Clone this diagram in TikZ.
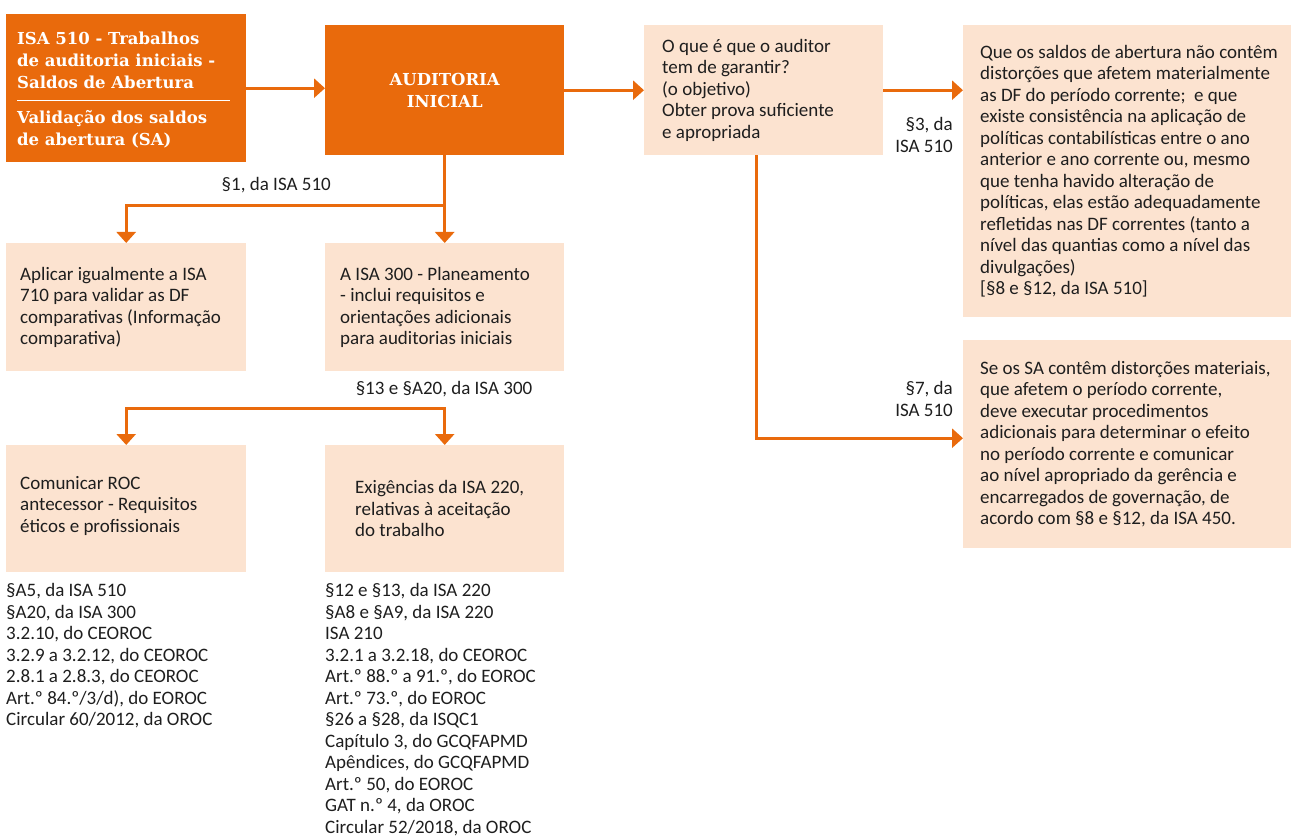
\documentclass[tikz,border=0pt]{standalone}
\usepackage{fontspec}
\setmainfont{Carlito}
\newfontfamily\slab{DejaVu Serif}
\usetikzlibrary{arrows.meta}
\definecolor{laranja}{RGB}{233,106,12}
\definecolor{pessego}{RGB}{252,227,208}
\definecolor{preto}{RGB}{30,30,30}
\newcommand\titulo{\slab\bfseries\fontsize{16.5}{21.7}\selectfont}
\newcommand\corpo{\fontsize{19}{21.5}\selectfont}
\tikzset{
  escura/.style={fill=laranja, text=white, anchor=north west, inner sep=0pt, font=\titulo},
  clara/.style={fill=pessego, anchor=north west, inner sep=0pt},
  texto/.style={text=preto, align=left, anchor=west, inner sep=0pt, font=\corpo},
  rotulo/.style={text=preto, inner sep=0pt, font=\corpo},
  seta/.style={draw=laranja, line width=3pt, -{Triangle[width=19pt,length=11pt]}},
  setas/.style={seta, {Triangle[width=19pt,length=11pt]}-{Triangle[width=19pt,length=11pt]}}
}
\begin{document}
\begin{tikzpicture}[x=1pt,y=-1pt]
  \useasboundingbox (0,0) rectangle (1291,837);
  % caixas
  \node[escura, minimum width=240pt, minimum height=148pt] (A) at (6,14) {};
  \node[escura, minimum width=239pt, minimum height=130pt, align=center] (B) at (325,25) {AUDITORIA\\INICIAL};
  \node[clara, minimum width=239pt, minimum height=130pt] (C) at (644,25) {};
  \node[clara, minimum width=328pt, minimum height=292pt] (D) at (963,25) {};
  \node[clara, minimum width=328pt, minimum height=208pt] (E) at (963,340) {};
  \node[clara, minimum width=240pt, minimum height=128pt] (F) at (6,243) {};
  \node[clara, minimum width=239pt, minimum height=128pt] (G) at (325,243) {};
  \node[clara, minimum width=240pt, minimum height=127pt] (H) at (6,445) {};
  \node[clara, minimum width=239pt, minimum height=127pt] (I) at (325,445) {};
  % textos das caixas
  \node[texto, text=white, font=\titulo] (At) at ([xshift=11pt,yshift=-2pt]A.west)
    {ISA 510 - Trabalhos\\de auditoria iniciais -\\Saldos de Abertura\\[14pt]Validação dos saldos\\de abertura (SA)};
  \draw[white, line width=1.2pt] ([xshift=11pt,yshift=-12pt]A.west) -- ([xshift=-16pt,yshift=-12pt]A.east);
  \node[texto] (Ct) at ([xshift=18pt]C.west)
    {O que é que o auditor\\tem de garantir?\\(o objetivo)\\Obter prova suficiente\\e apropriada};
  \node[texto] (Dt) at ([xshift=17pt]D.west)
    {Que os saldos de abertura não contêm\\distorções que afetem materialmente\\as DF do período corrente;~ e que\\existe consistência na aplicação de\\políticas contabilísticas entre o ano\\anterior e ano corrente ou, mesmo\\que tenha havido alteração de\\políticas, elas estão adequadamente\\refletidas nas DF correntes (tanto a\\nível das quantias como a nível das\\divulgações)\\{[}§8 e §12, da ISA 510{]}};
  \node[texto] (Et) at ([xshift=17pt]E.west)
    {Se os SA contêm distorções materiais,\\que afetem o período corrente,\\deve executar procedimentos\\adicionais para determinar o efeito\\no período corrente e comunicar\\ao nível apropriado da gerência e\\encarregados de governação, de\\acordo com §8 e §12, da ISA 450.};
  \node[texto] (Ft) at ([xshift=14pt]F.west)
    {Aplicar igualmente a ISA\\710 para validar as DF\\comparativas (Informação\\comparativa)};
  \node[texto] (Gt) at ([xshift=15pt]G.west)
    {A ISA 300 - Planeamento\\- inclui requisitos e\\orientações adicionais\\para auditorias iniciais};
  \node[texto] (Ht) at ([xshift=14pt,yshift=3pt]H.west)
    {Comunicar ROC\\antecessor - Requisitos\\éticos e profissionais};
  \node[texto] (It) at ([xshift=30pt]I.west)
    {Exigências da ISA 220,\\relativas à aceitação\\do trabalho};
  % referencias
  \node[texto, anchor=north west] (Hr) at ([yshift=-11pt]H.south west)
    {§A5, da ISA 510\\§A20, da ISA 300\\3.2.10, do CEOROC\\3.2.9 a 3.2.12, do CEOROC\\2.8.1 a 2.8.3, do CEOROC\\Art.º 84.º/3/d), do EOROC\\Circular 60/2012, da OROC};
  \node[texto, anchor=north west] (Ir) at ([yshift=-11pt]I.south west)
    {§12 e §13, da ISA 220\\§A8 e §A9, da ISA 220\\ISA 210\\3.2.1 a 3.2.18, do CEOROC\\Art.º 88.º a 91.º, do EOROC\\Art.º 73.º, do EOROC\\§26 a §28, da ISQC1\\Capítulo 3, do GCQFAPMD\\Apêndices, do GCQFAPMD\\Art.º 50, do EOROC\\GAT n.º 4, da OROC\\Circular 52/2018, da OROC};
  % rotulos
  \node[rotulo, anchor=east] (l1) at (331,185) {§1, da ISA 510};
  \node[rotulo] (l2) at (444,389) {§13 e §A20, da ISA 300};
  \node[rotulo, align=right, anchor=east] (l3) at (953,135) {§3, da\\ISA 510};
  \node[rotulo, align=right, anchor=east] (l4) at (953,399) {§7, da\\ISA 510};
  % ligacoes
  \coordinate (b1) at ([yshift=-50pt]B.south);
  \coordinate (g1) at ([yshift=-37pt]G.south);
  \draw[seta] (A.east) -- (A.east -| B.west);
  \draw[seta] (B.east) -- (C.west);
  \draw[seta] (C.east) -- (C.east -| D.west);
  \draw[seta] (B.south) -- (G.north);
  \draw[seta] (b1) -| (F.north);
  \draw[setas] (H.north) |- (g1) -- (I.north);
  \draw[seta] ([xshift=-7pt]C.south) |- ([yshift=6pt]E.west);
\end{tikzpicture}
\end{document}
